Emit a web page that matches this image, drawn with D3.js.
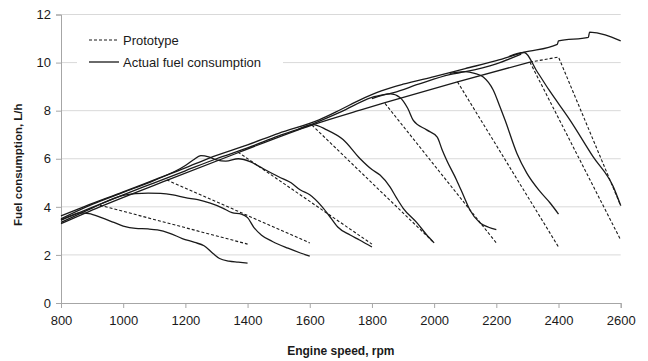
<!DOCTYPE html>
<html>
<head>
<meta charset="utf-8">
<script src="https://cdn.jsdelivr.net/npm/d3@7/dist/d3.min.js"></script>
<style>
  html, body { margin: 0; padding: 0; background: #fff; }
  svg { display: block; font-family: "Liberation Sans", Arial, sans-serif; }
</style>
</head>
<body>
<svg id="chart" width="648" height="361"></svg>
<script>
// Axis ticks
const rpmTicks = [800, 1000, 1200, 1400, 1600, 1800, 2000, 2200, 2400, 2600];
const fuelTicks = [0, 2, 4, 6, 8, 10, 12];

// Measured full-load runs [rpm, L/h]
const fullLoadUpper = [[800,3.62],[877,4.02],[1000,4.62],[1100,5.12],[1200,5.62],[1275,6.02],[1400,6.58],[1500,7.06],[1630,7.62],[1700,8.05],[1762,8.45],[1830,8.82],[1900,9.1],[2000,9.42],[2100,9.75],[2200,10.08],[2290,10.43],[2396,10.76],[2400,10.9],[2496,11.05],[2500,11.27],[2600,10.9]];
const fullLoadMiddle = [[800,3.45],[900,3.98],[1000,4.5],[1100,5.0],[1200,5.5],[1300,6.0],[1400,6.45],[1500,6.95],[1600,7.4],[1700,7.95],[1800,8.55],[1870,8.75],[1950,9.1],[2050,9.5],[2100,9.62],[2200,9.95],[2280,10.35]];
const fullLoadLower = [[800,3.3],[925,4.0],[1140,5.1],[1369,6.25],[1607,7.4],[1762,8.02],[1842,8.33],[2075,9.2],[2308,10.02]];

// Measured part-load runs, one per governor setting
const actualA = [[800,3.45],[830,3.62],[860,3.75],[890,3.72],[930,3.55],[970,3.35],[1000,3.2],[1040,3.1],[1080,3.08],[1110,3.04],[1150,2.9],[1190,2.68],[1230,2.52],[1260,2.38],[1290,2.05],[1310,1.85],[1340,1.74],[1370,1.7],[1400,1.66]];
const actualB = [[800,3.35],[900,3.95],[1000,4.48],[1040,4.55],[1080,4.57],[1120,4.56],[1160,4.5],[1200,4.38],[1240,4.3],[1280,4.15],[1320,3.95],[1350,3.76],[1380,3.7],[1400,3.55],[1420,3.15],[1445,2.82],[1480,2.56],[1530,2.28],[1570,2.08],[1600,1.95]];
const actualC = [[800,3.5],[900,4.1],[1000,4.6],[1100,5.1],[1200,5.72],[1225,5.95],[1250,6.13],[1275,6.08],[1300,5.95],[1330,5.9],[1370,6.0],[1410,5.87],[1440,5.66],[1500,5.25],[1540,5.0],[1570,4.7],[1600,4.5],[1640,4.0],[1670,3.5],[1690,3.16],[1730,2.83],[1760,2.62],[1800,2.33]];
const actualD = [[1560,7.2],[1610,7.42],[1655,7.2],[1707,6.8],[1762,6.0],[1800,5.55],[1826,5.32],[1858,4.83],[1880,4.35],[1900,3.95],[1945,3.33],[1975,2.85],[2000,2.5]];
const actualE = [[1800,8.5],[1860,8.7],[1890,8.55],[1915,8.1],[1933,7.6],[1976,7.2],[2010,6.9],[2025,6.4],[2040,5.95],[2072,5.12],[2095,4.45],[2115,3.87],[2148,3.33],[2175,3.15],[2200,3.05]];
const actualF = [[2050,9.55],[2100,9.62],[2130,9.55],[2158,9.4],[2190,8.86],[2212,8.15],[2228,7.61],[2266,6.23],[2298,5.4],[2341,4.63],[2373,4.16],[2400,3.7]];
const actualG = [[2240,10.25],[2290,10.42],[2330,9.65],[2370,8.85],[2437,7.61],[2511,6.09],[2576,4.84],[2600,4.05]];

// Prototype model: linear governor droop from the full-load curve
const protoA = [[925,4.07],[1400,2.45]];
const protoB = [[1140,5.12],[1600,2.5]];
const protoC = [[1369,6.28],[1800,2.45]];
const protoD = [[1607,7.4],[2000,2.5]];
const protoE = [[1842,8.3],[2200,2.5]];
const protoF = [[2075,9.2],[2400,2.33]];
const protoG = [[2308,10.02],[2600,2.62]];
const protoH = [[2308,10.02],[2400,10.23],[2600,4.05]];

const actualRuns = [fullLoadLower, fullLoadMiddle, fullLoadUpper, actualA, actualB, actualC, actualD, actualE, actualF, actualG];
const protoRuns = [protoA, protoB, protoC, protoD, protoE, protoF, protoG, protoH];

const svg = d3.select("#chart");
const x = d3.scaleLinear().domain([800, 2600]).range([61, 620.7]);
const y = d3.scaleLinear().domain([0, 12]).range([303, 14.5]);

// Horizontal gridlines
svg.append("g")
  .selectAll("line")
  .data(fuelTicks.filter(d => d > 0))
  .join("line")
  .attr("x1", x(800)).attr("x2", x(2600))
  .attr("y1", d => y(d)).attr("y2", d => y(d))
  .attr("stroke", "#d9d9d9").attr("stroke-width", 1);

// Axes
const xAxis = svg.append("g")
  .attr("transform", `translate(0,${y(0)})`)
  .call(d3.axisBottom(x).tickValues(rpmTicks).tickFormat(d3.format("d")).tickSize(5).tickPadding(8));
const yAxis = svg.append("g")
  .attr("transform", `translate(${x(800)},0)`)
  .call(d3.axisLeft(y).tickValues(fuelTicks).tickFormat(d3.format("d")).tickSize(5).tickPadding(5));
[xAxis, yAxis].forEach(g => {
  g.select(".domain").attr("stroke", "#a6a6a6");
  g.selectAll(".tick line").attr("stroke", "#a6a6a6");
  g.selectAll(".tick text")
    .attr("fill", "#1a1a1a")
    .style("font-size", "13px")
    .style("font-family", "'Liberation Sans', Arial, sans-serif");
});

// Axis titles
svg.append("text")
  .attr("x", (x(800) + x(2600)) / 2).attr("y", 355)
  .attr("text-anchor", "middle")
  .style("font-size", "12px").style("font-weight", "bold")
  .attr("fill", "#1a1a1a")
  .text("Engine speed, rpm");
svg.append("text")
  .attr("transform", `translate(22,${(y(0) + y(12)) / 2 + 6}) rotate(-90)`)
  .attr("text-anchor", "middle")
  .style("font-size", "11.5px").style("font-weight", "bold")
  .attr("fill", "#1a1a1a")
  .text("Fuel consumption,  L/h");

const smooth = d3.line().x(d => x(d[0])).y(d => y(d[1])).curve(d3.curveMonotoneX);
const straight = d3.line().x(d => x(d[0])).y(d => y(d[1]));

// Prototype curves (dashed)
svg.append("g")
  .selectAll("path")
  .data(protoRuns)
  .join("path")
  .attr("d", straight)
  .attr("fill", "none")
  .attr("stroke", "#1a1a1a")
  .attr("stroke-width", 1.1)
  .attr("stroke-dasharray", "3,2");

// Measured curves (solid)
svg.append("g")
  .selectAll("path")
  .data(actualRuns)
  .join("path")
  .attr("d", smooth)
  .attr("fill", "none")
  .attr("stroke", "#1a1a1a")
  .attr("stroke-width", 1.3);

// Legend
const legend = svg.append("g");
legend.append("rect")
  .attr("x", 77).attr("y", 28).attr("width", 206).attr("height", 46)
  .attr("fill", "#fff");
const items = [
  { label: "Prototype", dash: "3,2", yy: 40 },
  { label: "Actual fuel consumption", dash: null, yy: 62 }
];
items.forEach(it => {
  legend.append("line")
    .attr("x1", 89).attr("x2", 119).attr("y1", it.yy).attr("y2", it.yy)
    .attr("stroke", "#1a1a1a").attr("stroke-width", it.dash ? 1.1 : 1.3)
    .attr("stroke-dasharray", it.dash);
  legend.append("text")
    .attr("x", 123).attr("y", it.yy + 4.5)
    .style("font-size", "13px")
    .attr("fill", "#1a1a1a")
    .text(it.label);
});
</script>
</body>
</html>
